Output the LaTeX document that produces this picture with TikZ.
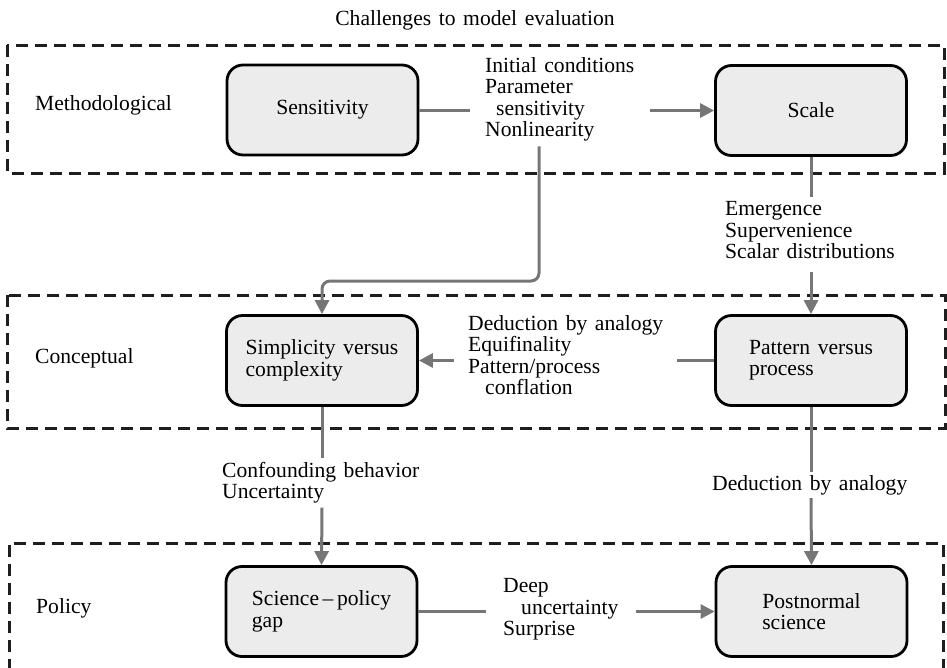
\documentclass[tikz,border=0pt]{standalone}
\usepackage{fontspec}
\setmainfont{Liberation Serif}[WordSpace=1.4]
\usetikzlibrary{arrows.meta,calc}
\definecolor{conncol}{RGB}{118,118,118}
\definecolor{boxfill}{RGB}{236,236,236}
\definecolor{framecol}{RGB}{30,30,30}
\begin{document}
\begin{tikzpicture}[x=1pt,y=-1pt,
  every node/.style={font=\fontsize{21.6}{21.4}\selectfont},
  stage/.style={draw=black, line width=2.8pt, fill=boxfill, rounded corners=16pt, minimum width=191pt, minimum height=90pt, align=left, inner sep=0pt},
  lab/.style={align=left, anchor=west, inner sep=0pt},
  conn/.style={draw=conncol, line width=3pt},
  arr/.style={conn, -{Triangle[length=14pt,width=14pt]}},
  frame/.style={draw=framecol, line width=3pt, dash pattern=on 12pt off 7pt}]
\useasboundingbox (0,0) rectangle (947,667);

\node[anchor=base, inner sep=0pt] (title) at (475,25) {Challenges to model evaluation};

\draw[frame] (7,45) rectangle (944,173);
\draw[frame] (7,295) rectangle (945,428);
\draw[frame] (9,690) -- (9,543) -- (943,543) -- (943,690);

\node[lab] (gm) at (35,105) {Methodological};
\node[lab] (gc) at (35,358) {Conceptual};
\node[lab] (gp) at (36,608) {Policy};

\node[stage] (sens) at (322.5,110) {Sensitivity};
\node[stage] (scale) at (811,110.5) {Scale};
\node[stage] (simp) at (322,360.5) {Simplicity versus\\complexity};
\node[stage] (pat) at (811,360.5) {Pattern versus\\process};
\node[stage] (sci) at (321.5,611.5) {Science\,–\,policy\\gap};
\node[stage] (post) at (811.5,611.5) {Postnormal\\science};

\node[lab, inner xsep=15pt, inner ysep=5pt] (l1) at (470,99.2) {Initial conditions\\Parameter\\\hspace*{11pt}sensitivity\\Nonlinearity};
\node[lab] (l2) at (725,230.4) {Emergence\\Supervenience\\Scalar distributions};
\node[lab, inner xsep=14pt] (l3) at (454,355) {Deduction by analogy\\Equifinality\\Pattern/process\\\hspace*{17pt}conflation};
\node[lab, inner ysep=4pt] (l4) at (222,482.8) {Confounding behavior\\Uncertainty};
\node[lab, inner ysep=3pt] (l5) at (712,485) {Deduction by analogy};
\node[lab, inner xsep=17pt] (l6) at (486,609.5) {Deep\\\hspace*{18pt}uncertainty\\Surprise};

\coordinate (c1) at (539,281);

\draw[conn] (sens.east) -- (sens.east -| l1.west);
\draw[arr] (scale.west -| l1.east) -- (scale.west);
\draw[arr, rounded corners=8pt] (l1.south -| c1) -- (c1) -| (simp.north);
\draw[conn] (scale.south) -- ($(l2.north -| scale.south)+(0,-5)$);
\draw[arr] ($(l2.south -| scale.south)+(0,13)$) -- (pat.north);
\draw[conn] (pat.west) -- (pat.west -| l3.east);
\draw[arr] (simp.east -| l3.west) -- (simp.east);
\draw[conn] (simp.south) -- (simp.south |- l4.north);
\draw[arr] (simp.south |- l4.south) -- (sci.north);
\draw[conn] (pat.south) -- (pat.south |- l5.north);
\draw[arr] (pat.south |- l5.south) -- (post.north);
\draw[conn] (sci.east) -- (sci.east -| l6.west);
\draw[arr] (post.west -| l6.east) -- (post.west);
\end{tikzpicture}
\end{document}
